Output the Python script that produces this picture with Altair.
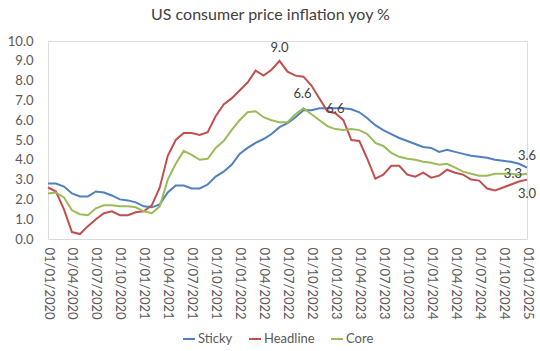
import altair as alt
import pandas as pd

# Monthly, Jan 2020 .. Jan 2025 (61 points), year-on-year %
sticky = [2.8, 2.8, 2.65, 2.3, 2.15, 2.15, 2.4, 2.35, 2.2, 2.0, 1.95, 1.85,
          1.65, 1.6, 1.75, 2.35, 2.7, 2.7, 2.55, 2.55, 2.75, 3.15, 3.4, 3.75,
          4.3, 4.6, 4.85, 5.05, 5.3, 5.65, 5.85, 6.15, 6.5, 6.5, 6.6, 6.6,
          6.6, 6.6, 6.55, 6.4, 6.1, 5.75, 5.5, 5.3, 5.1, 4.95, 4.8, 4.65,
          4.6, 4.4, 4.5, 4.4, 4.3, 4.2, 4.15, 4.1, 4.0, 3.95, 3.9, 3.8,
          3.6]
headline = [2.6, 2.4, 1.5, 0.35, 0.25, 0.65, 1.0, 1.3, 1.4, 1.2, 1.2, 1.35,
            1.4, 1.7, 2.6, 4.2, 5.0, 5.35, 5.35, 5.25, 5.4, 6.2, 6.8, 7.1,
            7.5, 7.9, 8.5, 8.25, 8.55, 9.0, 8.45, 8.25, 8.2, 7.75, 7.1, 6.45,
            6.35, 6.0, 5.0, 4.95, 4.05, 3.05, 3.25, 3.7, 3.7, 3.25, 3.15, 3.35,
            3.1, 3.2, 3.5, 3.35, 3.25, 3.0, 2.95, 2.55, 2.45, 2.6, 2.75, 2.9,
            3.0]
core = [2.3, 2.35, 2.1, 1.45, 1.25, 1.2, 1.55, 1.7, 1.7, 1.65, 1.65, 1.6,
        1.4, 1.3, 1.65, 3.0, 3.8, 4.45, 4.25, 4.0, 4.05, 4.6, 4.95, 5.5,
        6.0, 6.4, 6.45, 6.15, 6.0, 5.9, 5.9, 6.3, 6.6, 6.3, 6.0, 5.7,
        5.55, 5.5, 5.55, 5.5, 5.3, 4.85, 4.7, 4.35, 4.15, 4.05, 4.0, 3.9,
        3.85, 3.75, 3.8, 3.6, 3.4, 3.3, 3.2, 3.2, 3.3, 3.3, 3.3, 3.25,
        3.3]

series_names = ["Sticky", "Headline", "Core"]
series_colors = ["#4F81BD", "#C0504D", "#9BBB59"]
tick_months = list(range(0, 61, 3))  # every quarter label: 01/01/2020 ...
y_ticks = list(range(0, 11))

rows = []
for name, vals in zip(series_names, [sticky, headline, core]):
    for i, v in enumerate(vals):
        rows.append({"idx": i, "value": v, "series": name})
df = pd.DataFrame(rows)

FONT = "Lato"
TXT = "#595959"

x_scale = alt.Scale(domain=[0, 60], nice=False, zero=False)
y_scale = alt.Scale(domain=[0, 10], nice=False)

x_enc = alt.X(
    "idx:Q",
    scale=x_scale,
    axis=alt.Axis(
        values=tick_months,
        labelExpr="timeFormat(datetime(2020, datum.value, 1), '%d/%m/%Y')",
        labelAngle=90,
        labelFont=FONT, labelFontSize=13, labelColor=TXT,
        labelPadding=8, labelOverlap=False, labelBound=False, labelFlush=False,
        ticks=False, grid=False,
        domainColor="#D9D9D9", domainWidth=1,
        title=None,
    ),
)
y_enc = alt.Y(
    "value:Q",
    scale=y_scale,
    axis=alt.Axis(
        values=y_ticks, format=".1f",
        labelFont=FONT, labelFontSize=13, labelColor=TXT,
        labelPadding=15, labelOverlap=False, labelFlush=False,
        ticks=False, grid=False, domain=False,
        title=None,
    ),
)

lines = alt.Chart(df).mark_line(strokeWidth=2).encode(
    x=x_enc,
    y=y_enc,
    color=alt.Color(
        "series:N",
        scale=alt.Scale(domain=series_names, range=series_colors),
        legend=alt.Legend(
            orient="none", legendX=134, legendY=291,
            direction="horizontal", title=None,
            symbolType="stroke", symbolSize=144, symbolStrokeWidth=2,
            labelFont=FONT, labelFontSize=13, labelColor=TXT,
            labelOffset=2, columnPadding=12,
        ),
    ),
    detail="series:N",
)

# data labels: (series values, index, dx, dy, align)
label_specs = [
    (headline, 29, 0, -13, "center"),
    (core, 32, -1, -14, "center"),
    (sticky, 36, 0, 1, "center"),
    (sticky, 60, 0, -12, "center"),
    (core, 60, -5, 0, "right"),
    (headline, 60, 0, 14, "center"),
]
layers = [lines]
for vals, i, dx, dy, al in label_specs:
    ldf = pd.DataFrame({"idx": [i], "value": [vals[i]], "label": [f"{vals[i]:.1f}"]})
    layers.append(
        alt.Chart(ldf).mark_text(
            dx=dx, dy=dy, align=al, baseline="middle",
            font=FONT, fontSize=13, color="#404040",
        ).encode(
            x=x_enc,
            y=y_enc,
            text="label:N",
        )
    )

chart = alt.layer(*layers).properties(
    width=479,
    height=198,
    title=alt.TitleParams(
        "US consumer price inflation yoy %",
        font=FONT, fontSize=16, fontWeight="normal", color="#404040",
        anchor="middle", dx=-17, offset=12,
    ),
    autosize=alt.AutoSizeParams(type="none"),
    padding={"left": 48, "top": 41, "right": 13, "bottom": 112},
).configure_view(stroke=None).configure(background="white")

chart.save("out.html", embed_options={"renderer": "svg", "actions": False})
